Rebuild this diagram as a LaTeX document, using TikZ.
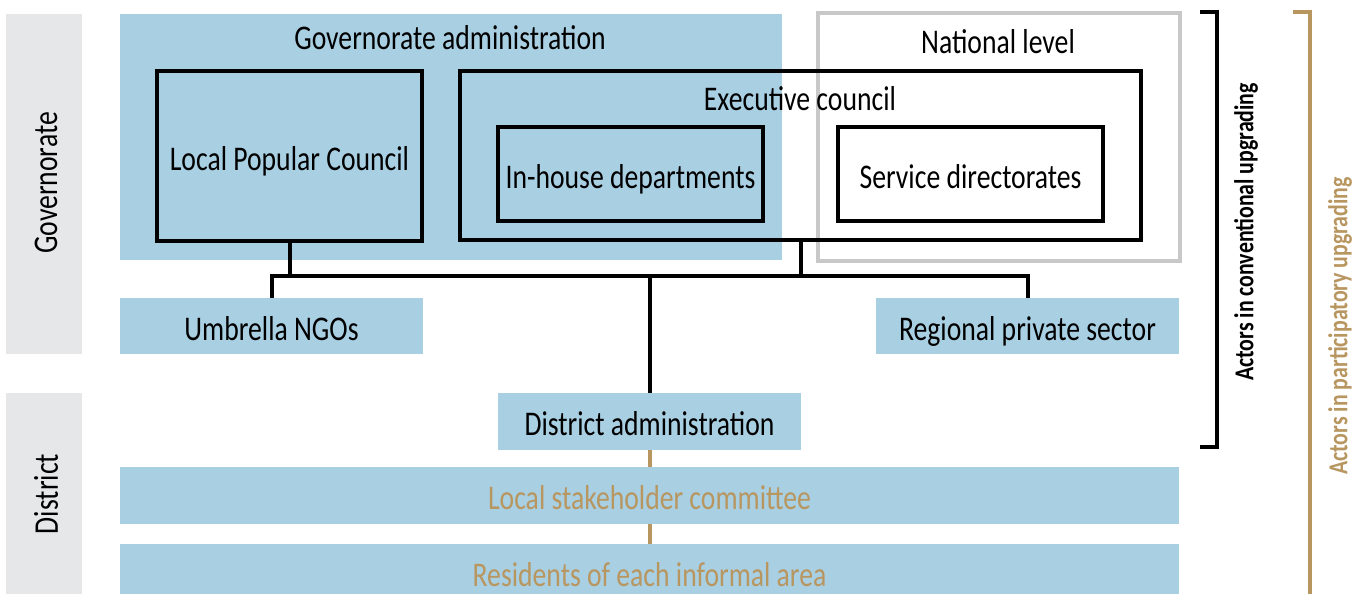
\documentclass[tikz,border=0pt]{standalone}
\usepackage{fontspec}
\setmainfont{Carlito}[FakeStretch=0.8]
\usetikzlibrary{backgrounds}
\definecolor{boxblue}{RGB}{169,207,227}
\definecolor{bandgray}{RGB}{230,231,232}
\definecolor{tan}{RGB}{184,150,96}
\definecolor{linegray}{RGB}{200,200,201}
\tikzset{
  band/.style={fill=bandgray, draw=none, inner sep=0pt, minimum width=76pt},
  actor/.style={fill=boxblue, draw=none, inner sep=0pt, text height=28pt, text depth=0pt, font=\fontsize{34.6}{36}\selectfont},
  frame/.style={draw=black, line width=4.5pt, inner sep=0pt, text height=28pt, text depth=0pt, font=\fontsize{34.6}{36}\selectfont},
  lbl/.style={inner sep=0pt, font=\fontsize{34.6}{36}\selectfont},
  side/.style={inner sep=0pt, rotate=90, font=\bfseries\fontsize{27.3}{29}\selectfont},
  link/.style={draw=black, line width=4pt},
  tanlink/.style={draw=tan, line width=4pt}
}
\begin{document}
\begin{tikzpicture}[x=1pt,y=-1pt]
    \useasboundingbox (0,0) rectangle (1368,594);
    \node[band, minimum height=340pt] (govband) at (44,184) {};
    \node[band, minimum height=201pt] (distband) at (44,493.5) {};
    \node[lbl, rotate=90] (govtxt) at (46,183) {Governorate};
    \node[lbl, rotate=90] (disttxt) at (46,494) {District};
    \node[actor, minimum width=662pt, minimum height=246pt] (govadm) at (451,137) {};
    \node[lbl] (govadmtxt) at (450,38) {Governorate administration};
    \node[draw=linegray, line width=4.5pt, minimum width=362pt, minimum height=248pt, inner sep=0pt] (natlevel) at (999,137) {};
    \node[lbl] (nattxt) at (998,42) {National level};
    \node[frame, minimum width=265pt, minimum height=170pt] (lpc) at (289.5,156) {Local Popular Council};
    \node[frame, minimum width=681pt, minimum height=169pt] (exec) at (800.5,155.5) {};
    \node[lbl] (exectxt) at (800,99) {Executive council};
    \node[frame, minimum width=265pt, minimum height=94pt] (inhouse) at (630.5,174) {In-house departments};
    \node[frame, minimum width=265pt, minimum height=94pt] (servdir) at (970.5,174) {Service directorates};
    \node[actor, minimum width=303pt, minimum height=56pt] (ngo) at (271.5,326) {Umbrella NGOs};
    \node[actor, minimum width=303pt, minimum height=56pt] (rps) at (1027.5,326) {Regional private sector};
    \node[actor, minimum width=303pt, minimum height=57pt] (distadm) at (649.5,421.5) {District administration};
    \node[actor, text=tan, minimum width=1059pt, minimum height=57pt] (lsc) at (649.5,495.5) {Local stakeholder committee};
    \node[actor, text=tan, minimum width=1059pt, minimum height=57pt] (res) at (649.5,572.5) {Residents of each informal area};
    \draw[link] (lpc.south) -- ++(0,33) coordinate (bus);
    \draw[link] (exec.south) -- (exec.south |- bus);
    \draw[link] (ngo.north) -- (ngo.north |- bus) -| (rps.north);
    \draw[link] (distadm.north) -- (distadm.north |- bus);
    \begin{scope}[on background layer]
        \draw[tanlink] (distadm.south) -- (res.north);
    \end{scope}
    \coordinate (convtop) at (1200,12);
    \coordinate (convbot) at (1200,447);
    \draw[link] (convtop) -- ++(17,0) |- (convbot);
    \node[side] (convtxt) at (1246,232) {Actors in conventional upgrading};
    \coordinate (parttop) at (1293,12);
    \draw[tanlink] (parttop) -| (1310,600);
    \node[side, text=tan] (parttxt) at (1340,326) {Actors in participatory upgrading};
\end{tikzpicture}
\end{document}
